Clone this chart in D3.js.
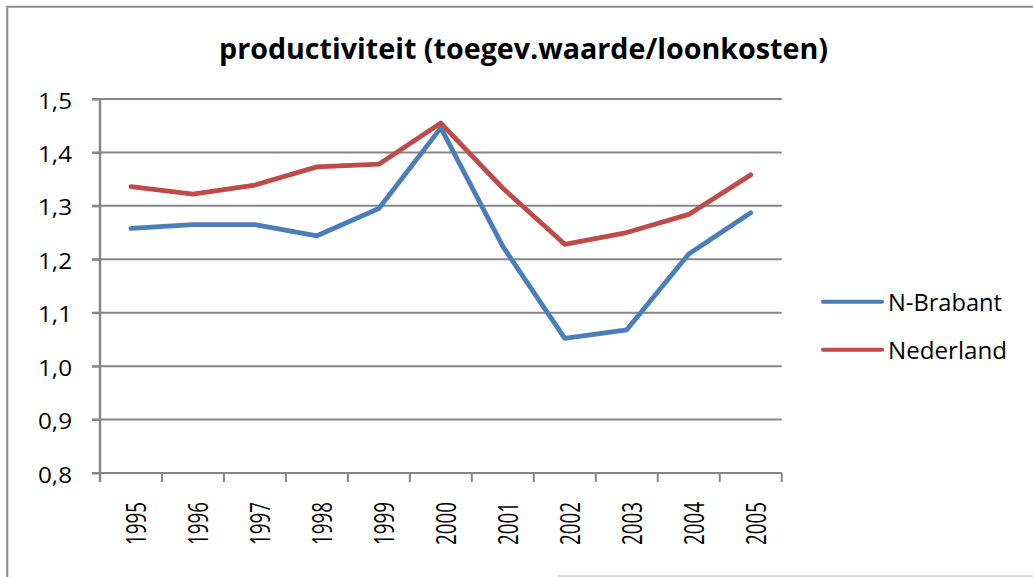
<!DOCTYPE html>
<html lang="nl">
<head>
    <meta charset="UTF-8">
    <title>productiviteit (toegev.waarde/loonkosten)</title>
    <script src="https://d3js.org/d3.v7.min.js"></script>
    <style>
        body { margin: 0; background: #fff; }
        svg { display: block; font-family: 'Open Sans', sans-serif; }
    </style>
</head>
<body>
    <div id="chart"></div>
    <script>
        // Data
        const years = ["1995", "1996", "1997", "1998", "1999", "2000", "2001", "2002", "2003", "2004", "2005"];
        const brabant = [1.258, 1.265, 1.265, 1.244, 1.295, 1.446, 1.224, 1.052, 1.068, 1.210, 1.287];
        const nederland = [1.336, 1.322, 1.339, 1.373, 1.378, 1.455, 1.333, 1.228, 1.250, 1.284, 1.358];
        const yTicks = [0.8, 0.9, 1.0, 1.1, 1.2, 1.3, 1.4, 1.5];
        const seriesNames = ["N-Brabant", "Nederland"];
        const colors = ["#4a7ebb", "#be4b48"];

        const W = 1033, H = 577;
        const plot = { left: 100, right: 781.7, top: 99, bottom: 473 };

        const svg = d3.select("#chart").append("svg")
            .attr("width", W)
            .attr("height", H);

        svg.append("rect").attr("width", W).attr("height", H).attr("fill", "#fff");

        // chart frame (cropped)
        svg.append("path")
            .attr("d", `M7.3,${H} V6.7 H${W}`)
            .attr("fill", "none")
            .attr("stroke", "#8a8a8a")
            .attr("stroke-width", 2);
        svg.append("line")
            .attr("x1", 558).attr("x2", W).attr("y1", 576).attr("y2", 576)
            .attr("stroke", "#cdcdcd").attr("stroke-width", 1.5);

        // title
        svg.append("text")
            .attr("x", 523.5)
            .attr("y", 59)
            .attr("text-anchor", "middle")
            .attr("font-size", 29)
            .attr("font-weight", "bold")
            .attr("textLength", 609)
            .attr("lengthAdjust", "spacingAndGlyphs")
            .attr("fill", "#000")
            .text("productiviteit (toegev.waarde/loonkosten)");

        // scales
        const x = d3.scaleBand().domain(years).range([plot.left, plot.right]).padding(0);
        const y = d3.scaleLinear().domain([0.8, 1.5]).range([plot.bottom, plot.top]);

        // gridlines
        svg.append("g")
            .selectAll("line")
            .data(yTicks)
            .join("line")
            .attr("x1", plot.left - 8)
            .attr("x2", plot.right)
            .attr("y1", d => y(d))
            .attr("y2", d => y(d))
            .attr("stroke", "#868686")
            .attr("stroke-width", 2);

        // y axis
        const yAxis = d3.axisLeft(y)
            .tickValues(yTicks)
            .tickSize(8)
            .tickPadding(20)
            .tickFormat(d => d3.format(".1f")(d).replace(".", ","));

        const gy = svg.append("g")
            .attr("transform", `translate(${plot.left},0)`)
            .call(yAxis);
        gy.select(".domain").remove();
        gy.selectAll(".tick line").attr("stroke", "#868686").attr("stroke-width", 2);
        gy.selectAll(".tick text")
            .attr("font-size", 22)
            .attr("font-family", "'Open Sans', sans-serif")
            .attr("textLength", 34)
            .attr("lengthAdjust", "spacingAndGlyphs")
            .attr("fill", "#000")
            .attr("dy", 9);

        // y axis line
        svg.append("line")
            .attr("x1", plot.left).attr("x2", plot.left)
            .attr("y1", plot.top).attr("y2", plot.bottom + 9)
            .attr("stroke", "#868686").attr("stroke-width", 2.5);

        // x ticks between categories
        const boundaries = years.map(d => x(d)).concat([plot.right]);
        svg.append("g")
            .selectAll("line")
            .data(boundaries)
            .join("line")
            .attr("x1", d => d).attr("x2", d => d)
            .attr("y1", plot.bottom).attr("y2", plot.bottom + 9)
            .attr("stroke", "#868686").attr("stroke-width", 2);

        // x labels
        svg.append("g")
            .selectAll("text")
            .data(years)
            .join("text")
            .attr("transform", d => `translate(${x(d) + x.bandwidth() / 2 + 15},502) rotate(-90)`)
            .attr("text-anchor", "end")
            .attr("font-size", 27)
            .attr("textLength", 43)
            .attr("lengthAdjust", "spacingAndGlyphs")
            .attr("fill", "#000")
            .text(d => d);

        // lines
        const line = d3.line()
            .x((d, i) => x(years[i]) + x.bandwidth() / 2)
            .y(d => y(d));

        [brabant, nederland].forEach((vals, i) => {
            svg.append("path")
                .datum(vals)
                .attr("d", line)
                .attr("fill", "none")
                .attr("stroke", colors[i])
                .attr("stroke-width", 4.8)
                .attr("stroke-linejoin", "round")
                .attr("stroke-linecap", "round");
        });

        // legend
        const legendY = [301.7, 349.7];
        const legendW = [114, 119];
        const legend = svg.append("g");
        seriesNames.forEach((name, i) => {
            legend.append("line")
                .attr("x1", 823).attr("x2", 882)
                .attr("y1", legendY[i]).attr("y2", legendY[i])
                .attr("stroke", colors[i])
                .attr("stroke-width", 4)
                .attr("stroke-linecap", "round");
            legend.append("text")
                .attr("x", 888)
                .attr("y", legendY[i] + 9.5)
                .attr("font-size", 23)
                .attr("textLength", legendW[i])
                .attr("lengthAdjust", "spacingAndGlyphs")
                .attr("fill", "#000")
                .text(name);
        });
    </script>
</body>
</html>
